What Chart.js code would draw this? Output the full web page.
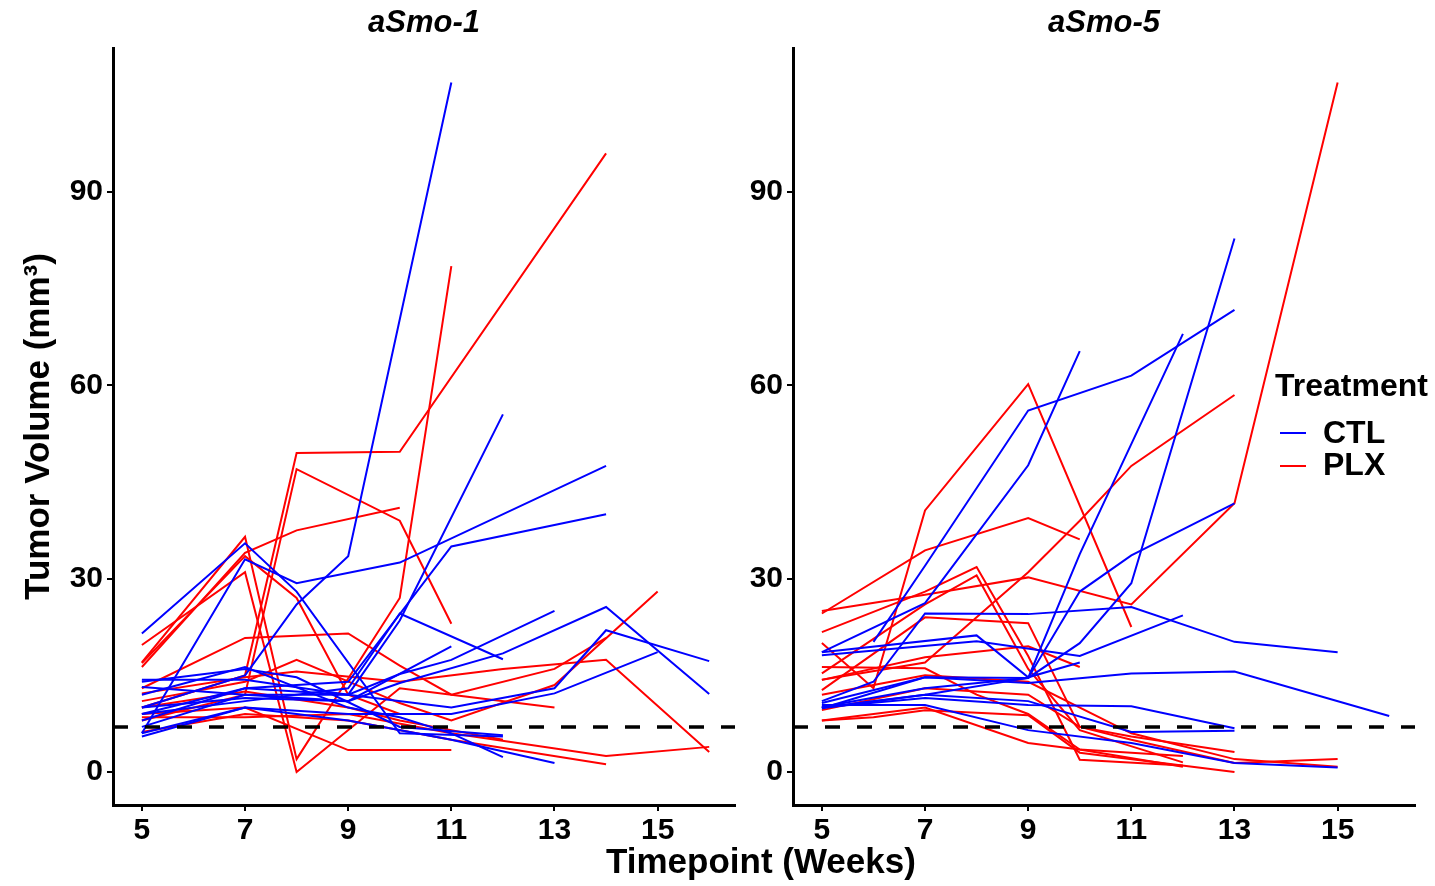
<!DOCTYPE html>
<html>
<head>
<meta charset="utf-8">
<script src="https://cdn.jsdelivr.net/npm/chart.js@4.4.0/dist/chart.umd.min.js"></script>
<style>
  body { margin: 0; background: #fff; }
  #wrap { position: relative; width: 1435px; height: 886px; overflow: hidden; font-family: "Liberation Sans", Arial, sans-serif; }
  canvas { position: absolute; top: 0; }
  .txt { position: absolute; font-weight: bold; color: #000; white-space: nowrap; }
  .sw { position: absolute; width: 26px; height: 2px; }
</style>
</head>
<body>
<div id="wrap">
  <canvas id="c1" width="745" height="886" style="left:0px"></canvas>
  <canvas id="c2" width="690" height="886" style="left:745px"></canvas>
  <div class="txt" style="left:606px; top:841px; font-size:35px;">Timepoint (Weeks)</div>
  <div class="txt" style="left:1275px; top:367px; font-size:32px;">Treatment</div>
  <div class="sw" style="left:1280px; top:432px; background:#0000ff;"></div>
  <div class="txt" style="left:1323px; top:414px; font-size:32px;">CTL</div>
  <div class="sw" style="left:1280px; top:465px; background:#ff0000;"></div>
  <div class="txt" style="left:1323px; top:446px; font-size:32px;">PLX</div>
</div>
<script>
// tick labels and axis limits
const xTicks = [5, 7, 9, 11, 13, 15]
const yTicks = [0, 30, 60, 90]
const threshold = 7

// aSmo-1, CTL mice: [week, volume]
const smo1Ctl = [
  [[5,10],[7,15],[8,26],[9,33.5],[11,107]],
  [[5,6],[7,33],[8,29.3],[10,32.5],[14,47.5]],
  [[5,21.5],[7,35.5],[8,28],[10,6],[12,5.5]],
  [[5,7],[7,12],[9,12],[10,23.5],[12,55.5]],
  [[5,9],[7,11],[9,13],[10,24.6],[12,17.5]],
  [[5,8],[7,13],[9,14],[11,35],[14,40]],
  [[5,13.2],[7,12],[9,11],[10,13.8],[12,18.4],[14,25.6],[16,12.1]],
  [[5,6],[7,10],[9,9],[11,9],[13,12.2],[15,18.6]],
  [[5,14.3],[7,14.3],[9,12],[10,15.2],[11,17.4],[13,25]],
  [[5,12],[7,16.3],[9,10],[10,8.5],[11,6],[12,2.3]],
  [[5,5.5],[7,10],[9,8],[11,5],[13,1.4]],
  [[5,14],[7,16],[8,14.7],[10,7],[12,5.7]],
  [[5,10],[7,11.5],[9,11],[11,19.5]],
  [[5,9],[7,13],[9,12],[11,10],[13,13],[14,22],[16,17.2]]
]

// aSmo-1, PLX mice
const smo1Plx = [
  [[5,10],[7,15],[8,49.5],[10,49.7],[14,96]],
  [[5,8],[7,12],[8,47],[10,39],[11,23]],
  [[5,17],[7,36.5],[8,2],[10,27],[11,78.5]],
  [[5,16.3],[7,34],[8,37.5],[10,41]],
  [[5,19.7],[7,31],[8,0],[10,13],[11,12],[13,16],[14,20.8]],
  [[5,13],[7,20.8],[9,21.5],[10,16.5],[11,12],[13,10]],
  [[5,11],[7,14],[8,17.4],[10,10.7],[11,8],[13,13.5],[15,28]],
  [[5,12.2],[7,14.7],[8,15.6],[10,14],[12,16],[14,17.4],[16,3.1]],
  [[5,9],[7,10],[9,3.4],[11,3.4]],
  [[5,8.5],[7,8.5],[9,9],[11,6],[14,2.5],[16,3.9]],
  [[5,6.2],[7,9],[9,8],[11,5],[14,1.2]],
  [[5,10],[7,12.5],[9,10],[10,8],[11,6.5],[12,5]],
  [[5,16.9],[7,33.5],[8,27],[9,12],[10,9]]
]

// aSmo-5, CTL mice
const smo5Ctl = [
  [[6,20.2],[7,32],[9,56.1],[11,61.5],[13,71.7]],
  [[5,18.6],[7,26.2],[9,47.6],[10,65.3]],
  [[5,10.7],[7,14.7],[9,14.6],[10,33.8],[12,68]],
  [[5,10.1],[7,13],[9,14.6],[10,20],[11,29.3],[13,82.8]],
  [[5,11],[6,14],[7,24.6],[9,24.5],[11,25.6],[13,20.2],[15,18.6]],
  [[5,18.1],[8,20.3],[10,18],[12,24.3]],
  [[5,9.9],[7,12],[9,14.6],[10,28],[11,33.6],[13,41.7]],
  [[5,10],[7,11.5],[9,10.4],[11,10.2],[13,6.8]],
  [[5,10.4],[7,10.4],[9,6.5],[11,4.5],[13,1.4],[15,0.7]],
  [[5,9.9],[7,14.7],[9,13.8],[11,15.3],[13,15.6],[16,8.7]],
  [[5,10],[7,12],[9,11],[11,6.2],[13,6.4]],
  [[5,18.6],[8,21.2],[9,14.7],[10,17]]
]

// aSmo-5, PLX mice
const smo5Plx = [
  [[5,20],[6,13],[7,40.6],[9,60.2],[11,22.5]],
  [[5,24.6],[7,34.4],[9,39.4],[10,36.1]],
  [[5,25],[7,27.5],[9,30.2],[11,26],[13,41.7],[15,107]],
  [[5,14.3],[7,17],[8,24],[9,31],[10,39],[11,47.5],[13,58.5]],
  [[5,21.7],[7,28],[8,31.8],[9,18],[10,1.9],[12,1]],
  [[5,15.3],[7,26],[8,30.5],[9,16],[10,6.5],[12,1.5]],
  [[5,12.7],[7,24],[9,23.1],[10,7],[11,5.5],[13,3.1]],
  [[5,14.3],[7,17.8],[9,19.5],[10,16.3]],
  [[5,16.3],[7,16.1],[8,12],[9,9],[10,3.5],[12,0.8]],
  [[5,8],[6,8.5],[7,9.6],[9,8.8],[10,3],[13,0]],
  [[5,9.6],[7,13],[9,12],[10,7],[11,5],[13,1.4],[15,2]],
  [[5,12],[7,15],[9,14],[11,6],[13,2],[15,0.8]],
  [[5,8],[7,10],[9,4.5],[10,3.5],[12,2.5]]
]

const X_MIN = 4.44, X_MAX = 16.5
const Y_MIN = -5.12, Y_MAX = 112.35
const fam = '"Liberation Sans", Arial, sans-serif'

function lines(group, color) {
  return group.map(g => ({
    data: g.map(p => ({x: p[0], y: p[1]})),
    borderColor: color,
    borderWidth: 2,
    pointRadius: 0,
    tension: 0,
    fill: false
  }))
}

function makePanel(id, title, ctl, plx, yWidth, padRight, yTitle) {
  const dashed = {
    data: [{x: X_MIN, y: threshold}, {x: X_MAX, y: threshold}],
    borderColor: '#000',
    borderWidth: 3.5,
    borderDash: [15, 17],
    pointRadius: 0,
    fill: false
  }
  const axisGrid = { drawOnChartArea: false, drawTicks: true, tickLength: 6, color: '#000', lineWidth: 2 }
  const tickFont = { size: 30, weight: 'bold', family: fam }
  new Chart(document.getElementById(id), {
    type: 'line',
    data: { datasets: [dashed].concat(lines(ctl, '#0000ff'), lines(plx, '#ff0000')) },
    options: {
      responsive: false,
      animation: false,
      layout: { padding: { left: 0, right: padRight, top: 0, bottom: 0 } },
      plugins: {
        legend: { display: false },
        tooltip: { enabled: false },
        title: {
          display: true, text: title, fullSize: false, color: '#000',
          font: { size: 31, weight: 'bold', style: 'italic', family: fam },
          padding: { top: 5, bottom: 5.8 }
        }
      },
      scales: {
        x: {
          type: 'linear', min: X_MIN, max: X_MAX,
          afterBuildTicks: s => { s.ticks = xTicks.map(v => ({value: v})) },
          afterFit: s => { s.height = 81 },
          grid: axisGrid,
          border: { display: true, color: '#000', width: 3 },
          ticks: { color: '#000', font: tickFont, padding: 2, maxRotation: 0 }
        },
        y: {
          type: 'linear', min: Y_MIN, max: Y_MAX,
          afterBuildTicks: s => { s.ticks = yTicks.map(v => ({value: v})) },
          afterFit: s => { s.width = yWidth },
          grid: axisGrid,
          border: { display: true, color: '#000', width: 3 },
          ticks: { color: '#000', font: tickFont, padding: 4 },
          title: {
            display: yTitle, text: 'Tumor Volume (mm³)', color: '#000',
            font: { size: 35, weight: 'bold', family: fam },
            padding: { top: 18, bottom: 0 }
          }
        }
      }
    }
  })
}

makePanel('c1', 'aSmo-1', smo1Ctl, smo1Plx, 113, 10, true)
makePanel('c2', 'aSmo-5', smo5Ctl, smo5Plx, 48, 20, false)
</script>
</body>
</html>
